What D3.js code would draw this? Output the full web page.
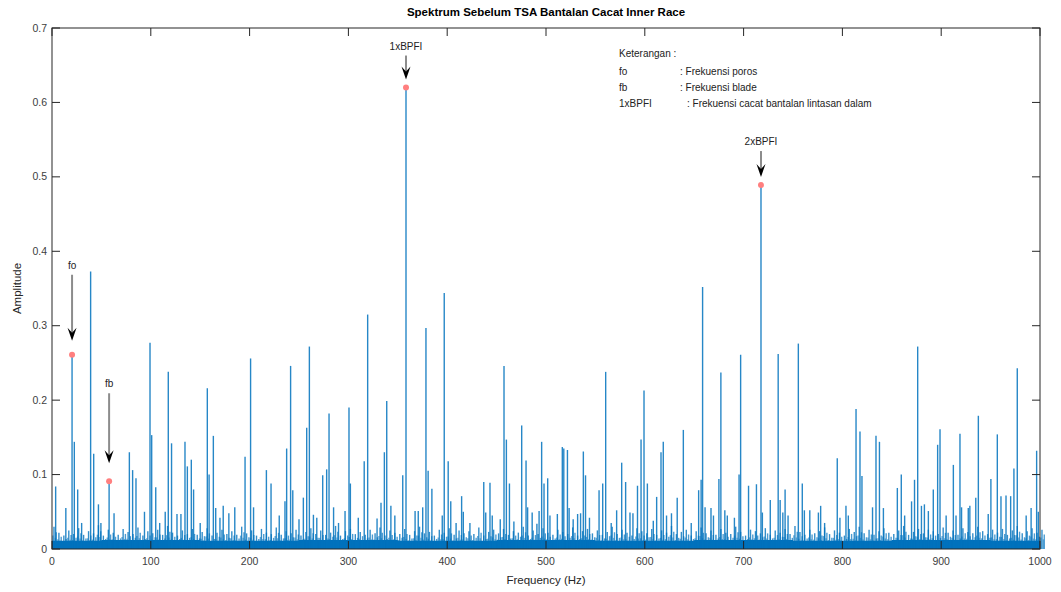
<!DOCTYPE html>
<html><head><meta charset="utf-8">
<script src="https://cdn.jsdelivr.net/npm/d3@7"></script>
<style>body{margin:0;background:#fff}svg{display:block;font-family:"Liberation Sans",Arial,sans-serif}</style>
</head><body><svg id="c" width="1061" height="592"></svg>
<script>
const titleText = "Spektrum Sebelum TSA Bantalan Cacat Inner Race";
const xLabel = "Frequency (Hz)";
const yLabel = "Amplitude";
const xTicks = [0,100,200,300,400,500,600,700,800,900,1000];
const yTicks = [0,0.1,0.2,0.3,0.4,0.5,0.6,0.7];

const peakFreq = [3.7,14,20.3,22.6,26,30,39.1,42.2,47,49.5,57.8,62.8,78.3,81.6,85,93.6,99.2,100.9,105,109,114.6,117.7,121,126.5,130.5,134.6,137,141,143.3,150,157.2,159,163.3,165.7,170,173.3,179,185,195.4,201,204,217,221.7,230,235.8,237.5,241.5,243.7,250,254.4,257.8,260.5,264.6,268,274,278,280.4,285,290,296.6,300.6,302,310,316,319.5,329,333,336.4,338.8,343,347,355,358.3,367.5,370.7,375.2,378.5,380.7,384.5,395,397,401,403.6,409,414.6,416.3,423,437,439,443.3,445.6,453.7,457.5,459.9,463,467.5,475.4,479.8,481.4,486,490.8,493,495.6,498,501.7,504,511.5,516.5,518,521.7,523.4,527.5,532,535,537.8,540,544,553.7,557.4,560.4,566,571.5,576.6,580.6,585,588,592.6,596.2,599.2,602.6,608.6,612,616.4,618.7,622,627,632.8,639,647,654.5,657,658.5,661,667,669.5,675,677,681,683.5,690.7,695.4,697,705,713,717.6,719,727,735,737,739.7,742,745,755.4,759.4,761.5,767,775.7,778,782,794.8,797.5,803.6,806,813.8,817.8,819.8,830.5,834,837.5,841.5,855.6,859.6,863,870,873,876.2,880,883,887,892,896.4,898.8,905,912.3,915,919,920.6,927.4,929,935,937.6,947.6,950.3,956.8,960.5,965.6,970.3,973.6,977,986,991,996.6,998.3];
const peakAmp = [0.084,0.055,0.261,0.144,0.08,0.035,0.373,0.128,0.06,0.035,0.091,0.048,0.13,0.106,0.095,0.05,0.277,0.153,0.083,0.035,0.05,0.238,0.142,0.047,0.047,0.144,0.111,0.12,0.08,0.035,0.216,0.1,0.152,0.055,0.042,0.058,0.048,0.056,0.124,0.256,0.056,0.106,0.088,0.045,0.064,0.135,0.246,0.079,0.04,0.069,0.163,0.272,0.046,0.042,0.099,0.107,0.182,0.056,0.035,0.051,0.19,0.088,0.042,0.118,0.315,0.041,0.062,0.13,0.199,0.058,0.045,0.099,0.62,0.051,0.051,0.056,0.297,0.105,0.081,0.045,0.344,0.118,0.064,0.035,0.071,0.05,0.035,0.09,0.049,0.089,0.045,0.04,0.246,0.147,0.088,0.037,0.166,0.119,0.056,0.049,0.034,0.051,0.144,0.088,0.095,0.045,0.047,0.137,0.135,0.133,0.055,0.04,0.047,0.048,0.131,0.099,0.042,0.079,0.088,0.238,0.035,0.052,0.116,0.09,0.049,0.048,0.085,0.147,0.213,0.088,0.038,0.07,0.13,0.144,0.045,0.048,0.069,0.16,0.035,0.079,0.093,0.352,0.056,0.055,0.045,0.094,0.237,0.052,0.045,0.042,0.1,0.261,0.085,0.087,0.489,0.049,0.066,0.262,0.066,0.049,0.08,0.045,0.276,0.088,0.052,0.052,0.049,0.058,0.035,0.122,0.042,0.058,0.045,0.188,0.158,0.098,0.056,0.152,0.144,0.055,0.082,0.1,0.045,0.064,0.093,0.272,0.058,0.06,0.051,0.08,0.14,0.161,0.045,0.113,0.045,0.155,0.056,0.055,0.058,0.069,0.179,0.047,0.094,0.154,0.071,0.072,0.071,0.108,0.243,0.045,0.055,0.132,0.05];

// noise floor, every 5 Hz from 0 to 1000
const floorAmp = [0.030,0.022,0.018,0.025,0.020,0.028,0.019,0.024,0.021,0.032,
0.018,0.026,0.022,0.019,0.027,0.023,0.020,0.029,0.018,0.024,
0.021,0.026,0.019,0.031,0.022,0.018,0.025,0.020,0.027,0.019,
0.023,0.028,0.018,0.022,0.026,0.020,0.024,0.019,0.030,0.021,
0.025,0.018,0.027,0.022,0.020,0.029,0.019,0.024,0.021,0.026,
0.018,0.023,0.028,0.020,0.025,0.019,0.022,0.031,0.018,0.024,
0.027,0.020,0.023,0.019,0.026,0.021,0.029,0.018,0.025,0.022,
0.020,0.027,0.019,0.024,0.030,0.021,0.023,0.018,0.026,0.022,
0.028,0.019,0.025,0.021,0.024,0.020,0.029,0.018,0.023,0.026,
0.021,0.027,0.019,0.024,0.022,0.030,0.018,0.025,0.020,0.028,
0.022,0.019,0.026,0.023,0.020,0.029,0.018,0.024,0.027,0.021,
0.025,0.019,0.023,0.030,0.020,0.026,0.022,0.018,0.028,0.024,
0.021,0.027,0.019,0.025,0.022,0.031,0.020,0.023,0.026,0.018,
0.024,0.029,0.021,0.025,0.019,0.027,0.022,0.020,0.030,0.023,
0.018,0.026,0.024,0.021,0.028,0.019,0.025,0.022,0.027,0.020,
0.031,0.023,0.019,0.026,0.021,0.024,0.029,0.020,0.025,0.022,
0.018,0.027,0.023,0.030,0.021,0.026,0.019,0.024,0.028,0.022,
0.020,0.025,0.031,0.019,0.023,0.027,0.021,0.026,0.024,0.020,
0.029,0.022,0.025,0.019,0.028,0.023,0.021,0.030,0.024,0.020,
0.026,0.022,0.027,0.019,0.025,0.031,0.021,0.024,0.028,0.022,
0.026];
const floorStep = 5;
const baseBand = [0.011,0.012,0.011,0.012,0.011,0.012,0.011,0.012,0.011,0.012,0.011];

const markLabels = ["fo","fb","1xBPFI","2xBPFI"];
const markFreq = [20.3,57.8,358.3,717.6];
const markAmp = [0.261,0.091,0.62,0.489];

const legendTitle = "Keterangan :";
const legendKeys = ["fo","fb","1xBPFI"];
const legendDesc = [": Frekuensi poros",": Frekuensi blade",": Frekuensi cacat bantalan lintasan dalam"];

const W=1061,H=592, L=52,R=1040,T=28,B=549;
const svg=d3.select("#c");
const x=d3.scaleLinear().domain([0,1000]).range([L,R]);
const y=d3.scaleLinear().domain([0,0.7]).range([B,T]);
const blue="#0072BD", axc="#262626";

// base band
svg.append("path")
  .datum(baseBand)
  .attr("fill",blue)
  .attr("d",d3.area().x((d,i)=>x(i*100)).y0(y(0)).y1(d=>y(d)).curve(d3.curveStep));

// floor lines
const fl=[[2,1,0.8],[4.3,0.75,0.7],[0.9,0.6,0.6],[3.4,0.5,0.55]];
fl.forEach(([off,sc,op])=>{
svg.append("g").selectAll("line").data(floorAmp).join("line")
  .attr("x1",(d,i)=>x(i*floorStep+off)).attr("x2",(d,i)=>x(i*floorStep+off))
  .attr("y1",y(0)).attr("y2",d=>y(d*sc))
  .attr("stroke",blue).attr("stroke-width",1.4).attr("stroke-opacity",op);
});

// peaks
svg.append("g").selectAll("line").data(peakFreq).join("line")
  .attr("x1",d=>x(d)).attr("x2",d=>x(d))
  .attr("y1",y(0)).attr("y2",(d,i)=>y(peakAmp[i]))
  .attr("stroke",blue).attr("stroke-width",1.4).attr("stroke-opacity",0.85);

// axes box
const g=svg.append("g");
g.append("rect").attr("x",L).attr("y",T).attr("width",R-L).attr("height",B-T)
  .attr("fill","none").attr("stroke",axc).attr("stroke-width",1);
const tl=8;
xTicks.forEach(t=>{
  g.append("line").attr("x1",x(t)).attr("x2",x(t)).attr("y1",B).attr("y2",B-tl).attr("stroke",axc);
  g.append("line").attr("x1",x(t)).attr("x2",x(t)).attr("y1",T).attr("y2",T+tl).attr("stroke",axc);
  g.append("text").attr("x",x(t)).attr("y",B+16).attr("text-anchor","middle")
    .attr("font-size",10.5).attr("fill","#404040").text(t);
});
yTicks.forEach(t=>{
  g.append("line").attr("x1",L).attr("x2",L+tl).attr("y1",y(t)).attr("y2",y(t)).attr("stroke",axc);
  g.append("line").attr("x1",R).attr("x2",R-tl).attr("y1",y(t)).attr("y2",y(t)).attr("stroke",axc);
  g.append("text").attr("x",L-5).attr("y",y(t)+3.5).attr("text-anchor","end")
    .attr("font-size",10.5).attr("fill","#404040").text(d3.format("~g")(t));
});
svg.append("text").attr("x",(L+R)/2).attr("y",16).attr("text-anchor","middle")
  .attr("font-size",11.5).attr("font-weight","bold").attr("fill","#000").text(titleText);
svg.append("text").attr("x",(L+R)/2).attr("y",584).attr("text-anchor","middle")
  .attr("font-size",11.5).attr("fill",axc).text(xLabel);
svg.append("text").attr("transform",`translate(21,${(T+B)/2}) rotate(-90)`).attr("text-anchor","middle")
  .attr("font-size",11.5).attr("fill",axc).text(yLabel);

// markers and arrows
const arrowLen=[66,70,24,26];
const gapTip=[14,18,8,8];
markLabels.forEach((lab,i)=>{
  const px=x(markFreq[i]), py=y(markAmp[i]);
  const tip=py-gapTip[i], top=tip-arrowLen[i];
  svg.append("line").attr("x1",px).attr("x2",px).attr("y1",top).attr("y2",tip-8)
    .attr("stroke","#8c8c8c").attr("stroke-width",2);
  svg.append("path").attr("d",`M${px-4.5},${tip-13} L${px},${tip-8} L${px+4.5},${tip-13} L${px},${tip} Z`)
    .attr("fill","#000");
  svg.append("text").attr("x",px).attr("y",top-6).attr("text-anchor","middle")
    .attr("font-size",10).attr("fill","#222").text(lab);
  svg.append("circle").attr("cx",px).attr("cy",py).attr("r",3).attr("fill","#ff7f7f");
});

// legend text
const lg=svg.append("g").attr("font-size",10).attr("fill","#222");
lg.append("text").attr("x",619).attr("y",57).attr("fill","#222").text(legendTitle);
legendKeys.forEach((k,i)=>{
  lg.append("text").attr("x",619).attr("y",75+i*16).attr("fill","#222").text(k);
  lg.append("text").attr("x",i==2?687:680).attr("y",75+i*16).attr("fill","#222").text(legendDesc[i]);
});
</script></body></html>
